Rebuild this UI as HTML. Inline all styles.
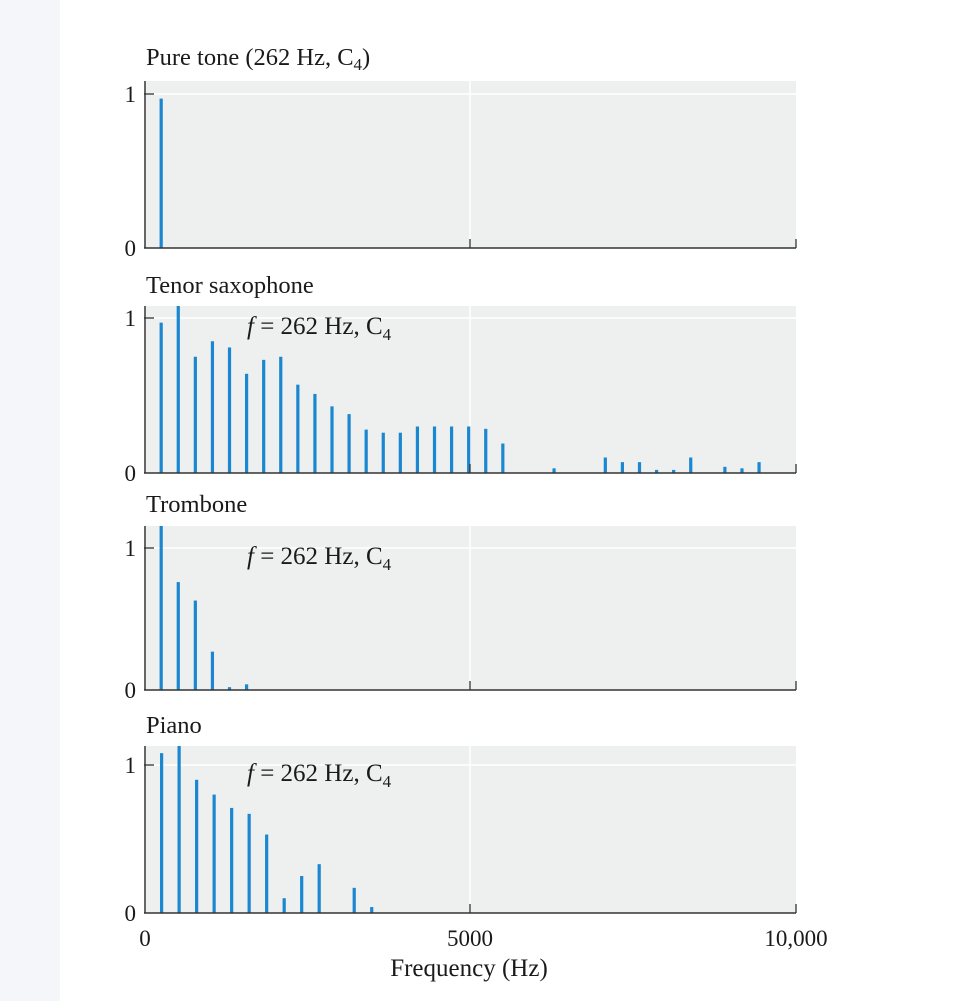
<!DOCTYPE html>
<html><head><meta charset="utf-8"><style>
body{margin:0;background:#fff}
svg{display:block}
text{font-family:"Liberation Serif",serif;fill:#1a1a1a}
</style></head><body>
<svg id="c" width="972" height="1001" xmlns="http://www.w3.org/2000/svg">
<rect x="0" y="0" width="60" height="1001" fill="#f4f6f9"/>
</svg>
<script>
const panelTitles = ["Pure tone (262 Hz, C4)", "Tenor saxophone", "Trombone", "Piano"];
const fundamental = 262;
const pureHarmonics = [1];
const pureValues = [0.97];
const saxHarmonics = [1,2,3,4,5,6,7,8,9,10,11,12,13,14,15,16,17,18,19,20,21,24,27,28,29,30,31,32,34,35,36];
const saxValues = [0.97,1.12,0.75,0.85,0.81,0.64,0.73,0.75,0.57,0.51,0.43,0.38,0.28,0.26,0.26,0.30,0.30,0.30,0.30,0.285,0.19,0.03,0.10,0.07,0.07,0.02,0.02,0.10,0.04,0.03,0.07];
const tromboneHarmonics = [1,2,3,4,5,6];
const tromboneValues = [1.2,0.76,0.63,0.27,0.02,0.04];
const pianoHarmonics = [1,2,3,4,5,6,7,8,9,10,12,13];
const pianoValues = [1.08,1.15,0.90,0.80,0.71,0.67,0.53,0.10,0.25,0.33,0.17,0.04];
const xTickValues = [0, 5000, 10000];
const xTickLabels = ["0", "5000", "10,000"];

const NS = "http://www.w3.org/2000/svg";
const svg = document.getElementById("c");
const X0 = 144, X1 = 796;
const xScale = f => X0 + (X1 - X0) * f / 10000;
function mk(tag, attrs, parent){ const e=document.createElementNS(NS,tag); for(const k in attrs) e.setAttribute(k,attrs[k]); (parent||svg).appendChild(e); return e; }

const panels = [
  {top:81, y0:248, unit:154, h:pureHarmonics, v:pureValues, ann:false, titleY:65, stretch:1},
  {top:306, y0:473, unit:155, h:saxHarmonics, v:saxValues, ann:true, titleY:293, stretch:1},
  {top:526, y0:690, unit:142, h:tromboneHarmonics, v:tromboneValues, ann:true, titleY:512, stretch:1},
  {top:746, y0:913, unit:148, h:pianoHarmonics, v:pianoValues, ann:true, titleY:733, stretch:1.025}
];
const names = ["pure-tone","tenor-saxophone","trombone","piano"];

panels.forEach((p, i) => {
  const g = mk("g", {});
  
  
  const yScale = v => p.y0 - v * p.unit;
  const bg = mk("rect", {x:X0+2, y:p.top, width:X1-X0-2, height:p.y0-p.top, fill:"#eeefef"}, g);
  
  
  const gh = mk("line", {x1:X0, x2:X1, y1:yScale(1), y2:yScale(1), stroke:"#fff", "stroke-width":1.5}, g);
  
  
  const gv = mk("line", {x1:xScale(5000), x2:xScale(5000), y1:p.top, y2:p.y0, stroke:"#fff", "stroke-width":1.5}, g);
  
  
  p.h.forEach((n, j) => {
    const val = Math.min(p.v[j], (p.y0 - p.top) / p.unit);
    const bx = X0 + (xScale(n*fundamental) - X0) * p.stretch;
    const r = mk("rect", {x:bx-1.5, y:yScale(val), width:3.2, height:p.y0-yScale(val), fill:"#1a87d0"}, g);
    
    
  });
  const ya = mk("line", {x1:X0+1, x2:X0+1, y1:p.top, y2:p.y0, stroke:"#333", "stroke-width":1.5}, g);
  
  
  const xa = mk("line", {x1:X0, x2:X1, y1:p.y0, y2:p.y0, stroke:"#333", "stroke-width":1.5}, g);
  
  
  const t1 = mk("line", {x1:X0, x2:X0+10, y1:yScale(1), y2:yScale(1), stroke:"#333", "stroke-width":1.3}, g);
  
  
  [5000,10000].forEach(f => {
    const t = mk("line", {x1:xScale(f), x2:xScale(f), y1:p.y0, y2:p.y0-9, stroke:"#333", "stroke-width":1.3}, g);
    
    
  });
  const l1 = mk("text", {x:136, y:yScale(1)+8, "font-size":23, "text-anchor":"end"}, g);
  l1.textContent = "1";
  
  
  const l0 = mk("text", {x:136, y:p.y0+8, "font-size":23, "text-anchor":"end"}, g);
  l0.textContent = "0";
  
  
  const tt = mk("text", {x:146, y:p.titleY, "font-size":24.5}, g);
  
  
  if (i === 0) {
    tt.innerHTML = 'Pure tone (262 Hz, C<tspan font-size="17" dy="5">4</tspan><tspan dy="-5">)</tspan>';
  } else tt.textContent = panelTitles[i];
  if (p.ann) {
    const a = mk("text", {x:247, y:yScale(1)+16, "font-size":25}, g);
    a.innerHTML = '<tspan font-style="italic">f</tspan> = 262 Hz, C<tspan font-size="17" dy="6">4</tspan>';
    
    
  }
});

xTickValues.forEach((f, k) => {
  const t = mk("text", {x:xScale(f)+(k===0?1:0), y:946, "font-size":23, "text-anchor":"middle"});
  t.textContent = xTickLabels[k];
  
  
});
const xt = mk("text", {x:469, y:976, "font-size":25, "text-anchor":"middle"});
xt.textContent = "Frequency (Hz)";


</script>
</body></html>
